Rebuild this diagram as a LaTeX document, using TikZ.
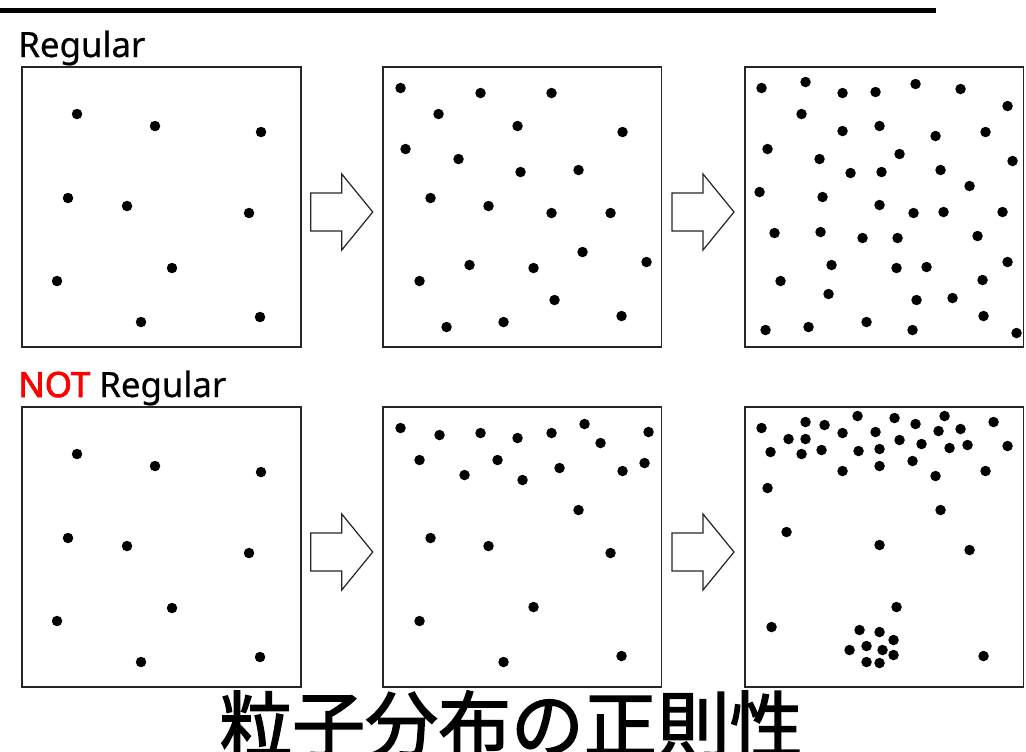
\documentclass[tikz,border=0pt]{standalone}
\usepackage{fontspec}
\usepackage{xcolor}
\usetikzlibrary{calc}
\newfontfamily\labelfont[FakeBold=0.6]{Noto Sans}
\newfontfamily\notfont[FakeBold=2.2]{Noto Sans}
\newfontfamily\jpfont[FakeBold=2]{Noto Sans CJK JP}
\def\ptsRegA{55/47,133/59,239/65,46/131,105/139,227/146,150/201,35/214,119/255,238/250}
\def\ptsRegB{18/21,98/26,169/26,56/47,135/59,240/65,23/82,76/92,138/105,196/103,48/131,106/139,169/146,228/146,200/185,264/195,87/198,151/201,37/214,172/233,239/249,121/255,64/260}
\def\ptsRegC{17/21,61/15,98/26,131/25,171/17,216/22,263/39,57/47,98/64,135/59,191/69,241/65,23/82,75/92,155/87,268/94,106/106,137/105,196/103,225/119,15/125,78/130,135/138,169/146,199/145,258/145,30/166,76/165,118/171,153/171,233/169,87/198,152/201,182/200,263/195,36/214,238/213,84/227,172/233,208/231,239/249,21/263,64/260,122/255,168/263,272/266}
\def\ptsIrrB{18/21,57/28,98/26,135/31,169/26,202/17,218/36,266/25,37/53,115/53,82/68,140/73,177/61,240/64,262/56,196/103,48/131,106/139,228/146,151/200,37/214,121/255,239/249}
\def\ptsIrrC{17/21,61/15,80/18,113/9,150/11,171/17,200/9,216/22,249/15,44/32,61/32,98/26,131/25,155/33,177/37,194/24,223/38,263/39,26/45,57/47,77/43,114/44,135/42,205/41,168/54,135/59,98/64,191/69,241/64,23/81,196/103,42/125,135/138,225/143,152/200,27/220,115/223,135/225,149/233,122/239,105/243,138/243,149/248,122/255,135/256,239/249}

\begin{document}
\begin{tikzpicture}[x=0.02cm,y=-0.02cm,
  panel/.style={draw=black!85,line width=1.1pt,minimum width=5.58cm,minimum height=5.6cm,inner sep=0pt,outer sep=0pt},
  blockarrow/.style={draw=black!85,line width=0.7pt,fill=white,line join=miter},
  particle/.style={fill=black},
  rowlabel/.style={anchor=base west,inner sep=0pt,font=\labelfont\fontsize{19.8}{24}\selectfont}]
  \useasboundingbox (0,0) rectangle (1026,751);
  \clip (0,0) rectangle (1026,751);
  \fill (0,8.3) rectangle (936,13);
  \node[rowlabel] (reglab) at (18,57) {Regular};
  \node[rowlabel] (notlab) at (18,397) {\textcolor{red}{\notfont NOT} Regular};
  \node[panel] (r1) at (161.5,207) {};
  \node[panel] (r2) at (522,207) {};
  \node[panel] (r3) at (884,207) {};
  \node[panel] (n1) at (161.5,547) {};
  \node[panel] (n2) at (522,547) {};
  \node[panel] (n3) at (884,547) {};
  \begin{scope}[shift={(r1.north west)}]
    \foreach \dx/\dy in \ptsRegA {\fill[particle] (\dx,\dy) circle (1.05mm);}
  \end{scope}
  \begin{scope}[shift={(r2.north west)}]
    \foreach \dx/\dy in \ptsRegB {\fill[particle] (\dx,\dy) circle (1.05mm);}
  \end{scope}
  \begin{scope}[shift={(r3.north west)}]
    \foreach \dx/\dy in \ptsRegC {\fill[particle] (\dx,\dy) circle (1.05mm);}
  \end{scope}
  \begin{scope}[shift={(n1.north west)}]
    \foreach \dx/\dy in \ptsRegA {\fill[particle] (\dx,\dy) circle (1.05mm);}
  \end{scope}
  \begin{scope}[shift={(n2.north west)}]
    \foreach \dx/\dy in \ptsIrrB {\fill[particle] (\dx,\dy) circle (1.05mm);}
  \end{scope}
  \begin{scope}[shift={(n3.north west)}]
    \foreach \dx/\dy in \ptsIrrC {\fill[particle] (\dx,\dy) circle (1.05mm);}
  \end{scope}
  \foreach \a/\b in {r1/r2,r2/r3,n1/n2,n2/n3}{
    \draw[blockarrow,shift={($(\a.east)!0.5!(\b.west)+(0,5)$)}] (-31,-19) -- (0,-19) -- (0,-38) -- (31,0) -- (0,38) -- (0,19) -- (-31,19) -- cycle;
  }
  \node[anchor=base,inner sep=0pt,font=\jpfont\fontsize{41.5}{50}\selectfont] (jptitle) at (511,752) {粒子分布の正則性};
\end{tikzpicture}
\end{document}
